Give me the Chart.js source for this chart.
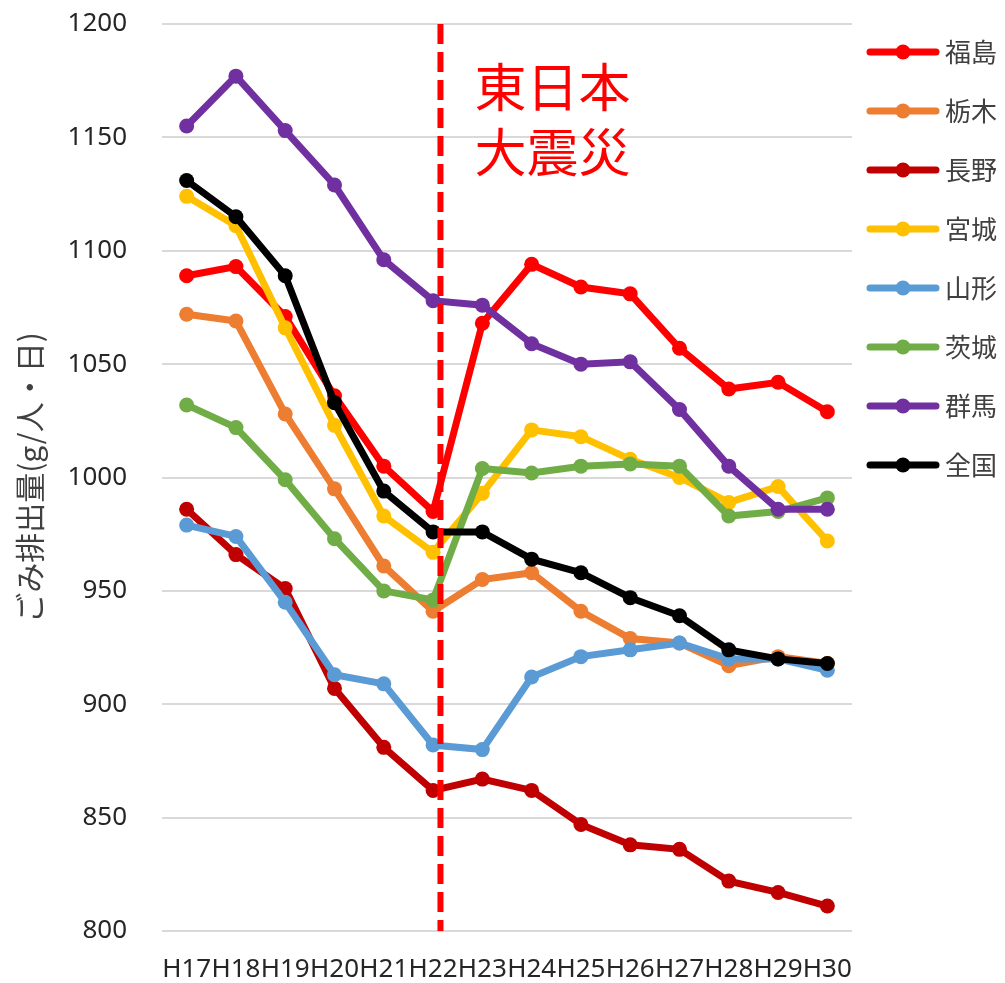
<!DOCTYPE html>
<html>
  <head>
    <meta charset="utf-8">
    <title>ごみ排出量の推移</title>
    <script src="https://cdn.jsdelivr.net/npm/chart.js@4.4.0/dist/chart.umd.min.js"></script>
  </head>

  <style>
body {
  margin: 0;
  background: #ffffff;
}

.wrapper {
  position: relative;
  width: 1005px;
  height: 983px;
}
  </style>

  <body>
    <div class="wrapper">
      <canvas id="myChart"></canvas>
    </div>

    <script>
// x-axis labels (fiscal years)
var years = ['H17','H18','H19','H20','H21','H22','H23','H24','H25','H26','H27','H28','H29','H30'];
// y-axis ticks
var yTicks = [800, 850, 900, 950, 1000, 1050, 1100, 1150, 1200];

// series, g per person per day
var fukushima = [1089, 1093, 1071, 1036, 1005, 985, 1068, 1094, 1084, 1081, 1057, 1039, 1042, 1029];
var tochigi   = [1072, 1069, 1028, 995, 961, 941, 955, 958, 941, 929, 927, 917, 921, 918];
var nagano    = [986, 966, 951, 907, 881, 862, 867, 862, 847, 838, 836, 822, 817, 811];
var miyagi    = [1124, 1111, 1066, 1023, 983, 967, 993, 1021, 1018, 1008, 1000, 989, 996, 972];
var yamagata  = [979, 974, 945, 913, 909, 882, 880, 912, 921, 924, 927, 920, 920, 915];
var ibaraki   = [1032, 1022, 999, 973, 950, 946, 1004, 1002, 1005, 1006, 1005, 983, 985, 991];
var gunma     = [1155, 1177, 1153, 1129, 1096, 1078, 1076, 1059, 1050, 1051, 1030, 1005, 986, 986];
var zenkoku   = [1131, 1115, 1089, 1033, 994, 976, 976, 964, 958, 947, 939, 924, 920, 918];

var names  = ['福島', '栃木', '長野', '宮城', '山形', '茨城', '群馬', '全国'];
var series = [fukushima, tochigi, nagano, miyagi, yamagata, ibaraki, gunma, zenkoku];
var colors = ['#ff0000', '#ed7d31', '#c00000', '#ffc000', '#5b9bd5', '#70ad47', '#7030a0', '#000000'];

var quakeIndex = 5;   // H22 -> earthquake in March 2011
var quakeText = ['東日本', '大震災'];

var jpFont = "'Noto Sans CJK JP', 'Noto Sans', sans-serif";
var numFont = "'Noto Sans', 'Open Sans', sans-serif";

var datasets = [];
for (var i = 0; i < names.length; i++) {
  datasets.push({
    label: names[i],
    data: series[i],
    borderColor: colors[i],
    backgroundColor: colors[i],
    pointBackgroundColor: colors[i],
    pointBorderColor: colors[i],
    borderWidth: 7,
    pointRadius: 7.5,
    pointBorderWidth: 0,
    tension: 0,
    fill: false,
    order: names.length - i   // last series drawn on top, like Excel
  });
}

// white background, dashed earthquake line and its label
var quakePlugin = {
  id: 'quake',
  beforeDraw: function(c) {
    var ctx = c.ctx;
    ctx.save();
    ctx.fillStyle = '#ffffff';
    ctx.fillRect(0, 0, c.width, c.height);
    ctx.restore();
  },
  afterDatasetsDraw: function(c) {
    var ctx = c.ctx;
    var xaxis = c.scales.x;
    var area = c.chartArea;
    var step = xaxis.getPixelForValue(quakeIndex + 1) - xaxis.getPixelForValue(quakeIndex);
    var x = xaxis.getPixelForValue(quakeIndex) + step * 0.15;
    ctx.save();
    ctx.beginPath();
    ctx.setLineDash([20, 8]);
    ctx.strokeStyle = '#ff0000';
    ctx.lineWidth = 6;
    ctx.moveTo(x, area.top);
    ctx.lineTo(x, area.bottom);
    ctx.stroke();
    ctx.restore();

    ctx.save();
    ctx.fillStyle = '#ff0000';
    ctx.font = '52px ' + jpFont;
    ctx.textAlign = 'left';
    ctx.textBaseline = 'middle';
    for (var k = 0; k < quakeText.length; k++) {
      ctx.fillText(quakeText[k], x + 34, area.top + 63 + k * 65);
    }
    ctx.restore();
  }
};

// legend with a line + marker sample, like the spreadsheet one
var legendPlugin = {
  id: 'sideLegend',
  afterDraw: function(c) {
    var ctx = c.ctx;
    var area = c.chartArea;
    var x0 = area.right + 18;
    var ds = c.data.datasets;
    ctx.save();
    for (var i = 0; i < ds.length; i++) {
      var y = area.top + 28 + i * 59;
      ctx.beginPath();
      ctx.strokeStyle = ds[i].borderColor;
      ctx.lineWidth = 7;
      ctx.lineCap = 'round';
      ctx.moveTo(x0, y);
      ctx.lineTo(x0 + 66, y);
      ctx.stroke();
      ctx.beginPath();
      ctx.fillStyle = ds[i].borderColor;
      ctx.arc(x0 + 33, y, 7.5, 0, Math.PI * 2);
      ctx.fill();
      ctx.fillStyle = '#404040';
      ctx.font = '26px ' + jpFont;
      ctx.textAlign = 'left';
      ctx.textBaseline = 'middle';
      ctx.fillText(ds[i].label, x0 + 75, y);
    }
    ctx.restore();
  }
};

var canvas = document.getElementById('myChart');
var myChart = new Chart(canvas.getContext('2d'), {
  type: 'line',
  data: { labels: years, datasets: datasets },
  plugins: [quakePlugin, legendPlugin],
  options: {
    responsive: true,
    maintainAspectRatio: false,
    animation: false,
    layout: { padding: { top: 24, right: 153, bottom: 0, left: 0 } },
    plugins: {
      legend: { display: false },
      tooltip: { enabled: false }
    },
    scales: {
      x: {
        offset: true,
        grid: { display: false, drawTicks: true, tickLength: 23, tickColor: 'rgba(0,0,0,0)' },
        border: { display: false },
        ticks: {
          autoSkip: false,
          maxRotation: 0,
          padding: 0,
          color: '#262626',
          font: { family: numFont, size: 26 }
        },
        afterFit: function(scale) { scale.height = 52; }
      },
      y: {
        min: 800,
        max: 1200,
        afterBuildTicks: function(scale) {
          scale.ticks = yTicks.map(function(v) { return { value: v }; });
        },
        grid: { color: '#d9d9d9', lineWidth: 2, drawTicks: true, tickLength: 35, tickColor: 'rgba(0,0,0,0)' },
        border: { display: false },
        ticks: {
          padding: 0,
          color: '#262626',
          font: { family: numFont, size: 26 },
          callback: function(v) { return String(v); }
        },
        title: {
          display: true,
          text: 'ごみ排出量(g/人・日)',
          color: '#404040',
          padding: { top: 12, bottom: 0 },
          font: { family: jpFont, size: 30 }
        },
        afterFit: function(scale) { scale.width = 162; }
      }
    }
  }
});
    </script>
  </body>
</html>
